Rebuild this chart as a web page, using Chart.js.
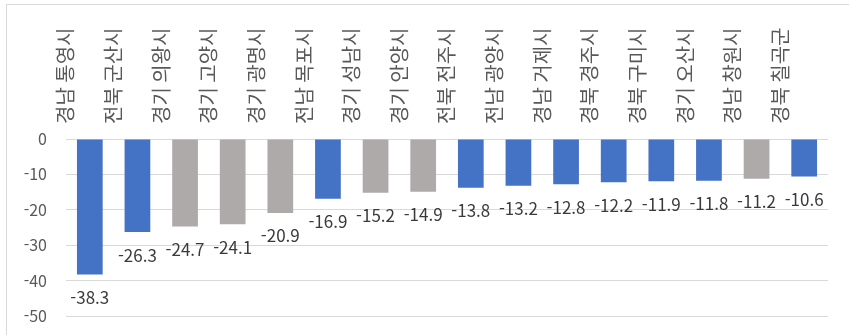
<!DOCTYPE html>
<html lang="ko">
<head>
<meta charset="utf-8">
<script src="https://cdn.jsdelivr.net/npm/chart.js@4"></script>
<style>
    html, body { margin: 0; padding: 0; background: #fff; overflow: hidden; }
    #frame { position: absolute; left: 6px; top: 4px; width: 900px; height: 400px; border: 1px solid #d9d9d9; }
    #wrap { position: absolute; left: 0; top: 0; width: 849px; height: 335px; }
</style>
</head>
<body>
<div id="frame"></div>
<div id="wrap"><canvas id="chart" width="849" height="335"></canvas></div>
<script>
const cities = ['경남 통영시', '전북 군산시', '경기 의왕시', '경기 고양시', '경기 광명시', '전남 목포시', '경기 성남시', '경기 안양시',
    '전북 전주시', '전남 광양시', '경남 거제시', '경북 경주시', '경북 구미시', '경기 오산시', '경남 창원시', '경북 칠곡군']
const changes = [-38.3, -26.3, -24.7, -24.1, -20.9, -16.9, -15.2, -14.9, -13.8, -13.2, -12.8, -12.2, -11.9, -11.8, -11.2, -10.6]
const highlighted = [1, 1, 0, 0, 0, 1, 0, 0, 1, 1, 1, 1, 1, 1, 0, 1]
const yTicks = [0, -10, -20, -30, -40, -50]

const BLUE = '#4472C4'
const GRAY = '#AEAAAA'
const FONT = '"Noto Sans CJK KR", "Noto Sans", sans-serif'

// draws the value under each bar, like Excel "outside end" labels
const valueLabels = {
    id: 'valueLabels',
    afterDatasetsDraw(chart) {
        const ctx = chart.ctx
        const meta = chart.getDatasetMeta(0)
        ctx.save()
        ctx.font = '17px ' + FONT
        ctx.fillStyle = '#3a3a3a'
        ctx.textAlign = 'center'
        ctx.textBaseline = 'middle'
        meta.data.forEach((bar, i) => {
            ctx.fillText(changes[i].toFixed(1), bar.x, bar.y + 23)
        })
        ctx.restore()
    }
}

const ctx = document.getElementById('chart')
new Chart(ctx, {
    type: 'bar',
    data: {
        labels: cities,
        datasets: [
            {
                data: changes,
                backgroundColor: highlighted.map((h) => h ? BLUE : GRAY),
                borderWidth: 0,
                categoryPercentage: 1,
                barPercentage: 0.54,
            },
        ],
    },
    options: {
        responsive: false,
        animation: false,
        layout: { padding: { left: 0, top: 0, right: 21, bottom: 19 } },
        plugins: {
            legend: { display: false },
            tooltip: { enabled: false },
        },
        scales: {
            x: {
                position: 'top',
                grid: { display: false, drawTicks: false },
                border: { display: false },
                ticks: {
                    autoSkip: false,
                    minRotation: 90,
                    maxRotation: 90,
                    padding: 15,
                    color: '#595959',
                    font: { family: FONT, size: 20 },
                },
                afterFit: (scale) => { scale.height = 139 },
            },
            y: {
                min: -50,
                max: 0,
                grid: { color: '#d9d9d9', drawTicks: false },
                border: { display: false },
                afterBuildTicks: (scale) => { scale.ticks = yTicks.map((v) => ({ value: v })) },
                ticks: {
                    padding: 19,
                    color: '#595959',
                    font: { family: FONT, size: 16 },
                },
                afterFit: (scale) => {
                    scale.width = 66
                    scale.paddingTop = 0
                    scale.paddingBottom = 0
                },
            },
        },
    },
    plugins: [valueLabels],
});
</script>
</body>
</html>
